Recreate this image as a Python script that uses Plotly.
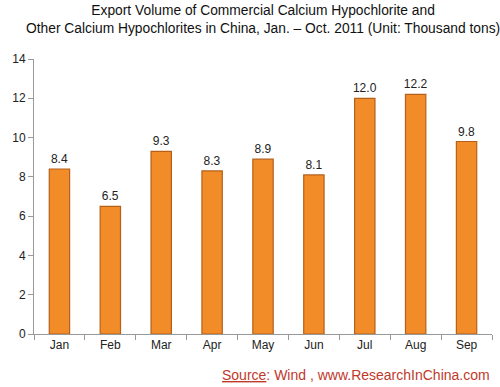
import plotly.graph_objects as go

months = ["Jan", "Feb", "Mar", "Apr", "May", "Jun", "Jul", "Aug", "Sep"]
volumes = [8.4, 6.5, 9.3, 8.3, 8.9, 8.1, 12.0, 12.2, 9.8]
y_ticks = [0, 2, 4, 6, 8, 10, 12, 14]

fig = go.Figure()
fig.add_trace(go.Bar(
    x=months, y=volumes,
    marker=dict(color="#F28C28", line=dict(color="#B5601A", width=1.2)),
    text=[f"{v:.1f}" for v in volumes],
    textposition="outside",
    constraintext="none",
    textfont=dict(family="Liberation Sans", size=12, color="#222"),
    cliponaxis=False,
    width=0.4,
    hoverinfo="skip",
))

fig.update_layout(
    width=500, height=387,
    margin=dict(l=34, r=8, t=59, b=53),
    paper_bgcolor="white", plot_bgcolor="white",
    showlegend=False,
    font=dict(family="Liberation Sans", size=12, color="#222"),
)
fig.update_xaxes(
    showline=True, linecolor="#999", linewidth=1,
    ticks="outside", ticklen=5, tickcolor="#999", tickson="boundaries",
    showgrid=False, tickfont=dict(size=12),
)
fig.update_yaxes(
    range=[0, 14], tickvals=y_ticks, showline=True, linecolor="#999", linewidth=1,
    ticks="outside", ticklen=5, tickcolor="#999", showgrid=False, zeroline=False,
    tickfont=dict(size=12),
)

fig.add_annotation(
    x=0.5, y=1, xref="paper", yref="paper", xanchor="center", yanchor="top",
    yshift=59 - 1,
    text="Export Volume of Commercial Calcium Hypochlorite and<br>Other Calcium Hypochlorites in China, Jan. – Oct. 2011 (Unit: Thousand tons)",
    showarrow=False, align="center",
    font=dict(family="Liberation Sans", size=13.8, color="#111"),
)
fig.add_annotation(
    x=1, y=0, xref="paper", yref="paper", xanchor="right", yanchor="bottom",
    yshift=-51,
    text="<u>Source</u>: Wind , www.ResearchInChina.com",
    showarrow=False,
    font=dict(family="Liberation Sans", size=14, color="#C0392B"),
)

fig.write_html("out.html", config={"displayModeBar": False},
               post_script="document.body.style.margin='0';")
